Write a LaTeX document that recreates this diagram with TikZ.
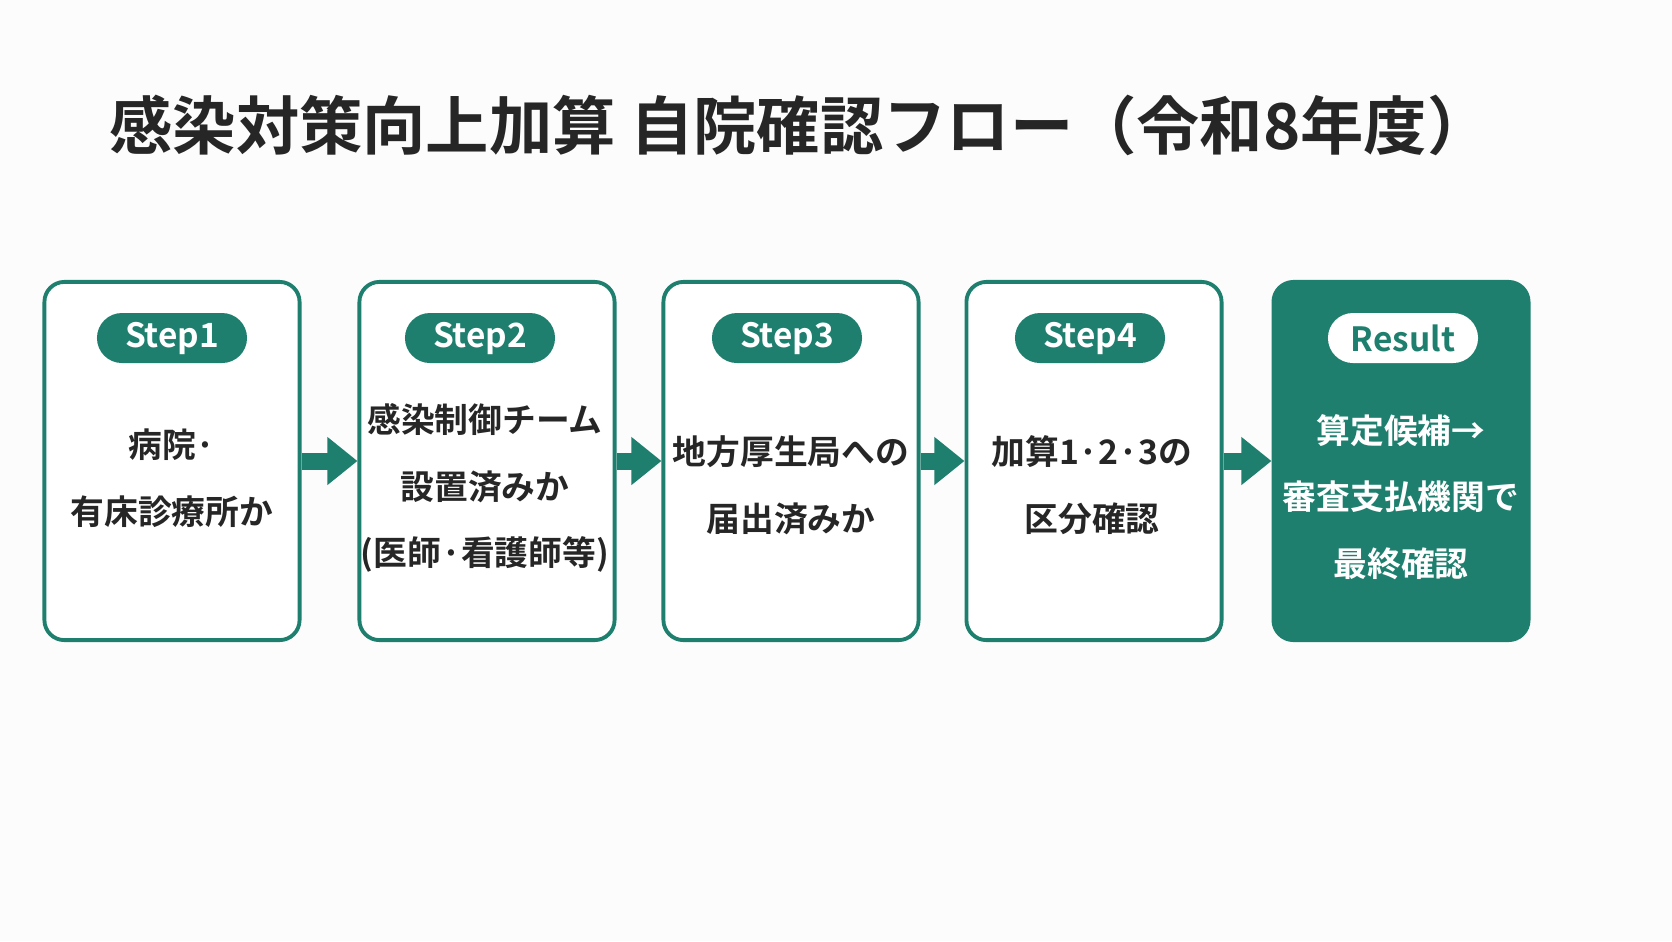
\documentclass[tikz,border=0pt]{standalone}
\usepackage{fontspec}
\setmainfont{Noto Sans CJK JP}[BoldFont={Noto Sans CJK JP Bold}]
\usepackage{tikz}
\usetikzlibrary{arrows.meta,positioning}
\definecolor{teal1}{HTML}{1E7F6E}

\begin{document}
\begin{tikzpicture}[x=0.01cm, y=-0.01cm,
  card/.style={draw=teal1, line width=1.1pt, rounded corners=2mm, minimum width=2.55cm, minimum height=3.58cm},
  rescard/.style={card, fill=teal1},
  pill/.style={fill=teal1, text=white, rounded corners=2.5mm, minimum width=1.5cm, minimum height=0.5cm, inner sep=0pt, font=\fontsize{9.5}{11}\selectfont\bfseries},
  respill/.style={pill, fill=white, text=teal1},
  body/.style={align=center, font=\fontsize{9.6}{19}\selectfont\bfseries, text=black!85},
  arrow/.style={-{Triangle[length=3mm, width=4.6mm]}, line width=1.7mm, teal1}
]
\fill[black!1] (0,0) rectangle (1672,941);
\useasboundingbox (0,0) rectangle (1672,941);

\node[font=\fontsize{18}{22}\selectfont\bfseries, text=black!85] (title) at (800,125) {感染対策向上加算 自院確認フロー（令和8年度）};

\node[card, fill=white] (s1) at (172,461) {};
\node[card, fill=white] (s2) at (487,461) {};
\node[card, fill=white] (s3) at (791,461) {};
\node[card, fill=white] (s4) at (1094,461) {};
\node[rescard] (res) at (1401,461) {};

\node[pill] (p1) at (172,338) {Step1};
\node[pill] (p2) at (480,338) {Step2};
\node[pill] (p3) at (787,338) {Step3};
\node[pill] (p4) at (1090,338) {Step4};
\node[respill] (pr) at (1403,338) {Result};

\node[body] (t1) at (172,478) {病院·\\有床診療所か};
\node[body] (t2) at (485,488) {感染制御チーム\\設置済みか\\(医師·看護師等)};
\node[body] (t3) at (791,485) {地方厚生局への\\届出済みか};
\node[body] (t4) at (1092,485) {加算1·2·3の\\区分確認};
\node[body, text=white] (tr) at (1401,497) {算定候補→\\審査支払機関で\\最終確認};

\draw[arrow] (s1.east) -- (s2.west);
\draw[arrow] (s2.east) -- (s3.west);
\draw[arrow] (s3.east) -- (s4.west);
\draw[arrow] (s4.east) -- (res.west);
\end{tikzpicture}
\end{document}
